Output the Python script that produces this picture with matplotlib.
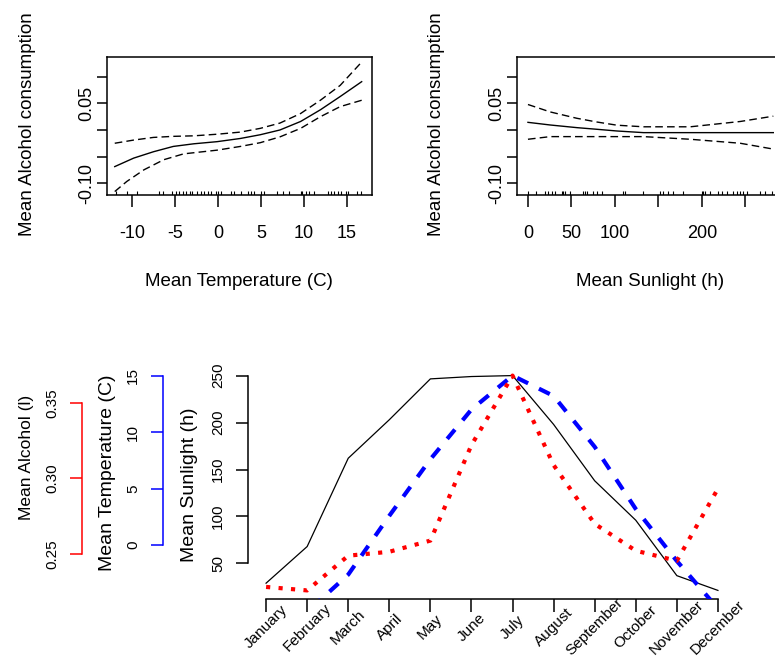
import matplotlib
matplotlib.use("Agg")
import matplotlib.pyplot as plt
import numpy as np

plt.rcParams['font.family'] = ['Liberation Sans', 'DejaVu Sans']

# --- top panels: smooth effects of temperature and sunlight ---
temp_grid = [-12.0, -9.8, -7.5, -5.2, -2.8, -0.1, 2.6, 4.9, 7.2, 9.6, 11.9, 14.2, 16.7]
temp_fit = [-0.069, -0.053, -0.041, -0.031, -0.026, -0.022, -0.016, -0.009, 0.000,
            0.016, 0.038, 0.063, 0.091]
temp_up = [-0.025, -0.019, -0.014, -0.012, -0.011, -0.008, -0.004, 0.003, 0.013,
           0.031, 0.056, 0.084, 0.128]
temp_lo_grid = [-12.0, -10.6, -8.6, -6.3, -4.0, -0.1, 2.6, 4.9, 7.2, 9.6, 11.9, 14.2, 16.7]
temp_lo = [-0.116, -0.097, -0.075, -0.056, -0.045, -0.038, -0.031, -0.024, -0.013,
           0.003, 0.025, 0.044, 0.056]
temp_rug = [-11.9, -10.6, -9.4, -6.8, -6.4, -5.3, -4.9, -4.5, -4.1, -3.7, -3.3, -3.0,
            -2.4, -2.0, -1.6, -1.2, -0.8, -0.2, 0.0, 0.4, 1.5, 1.9, 2.7, 3.5, 3.8, 4.2,
            5.0, 5.4, 6.9, 7.5, 8.3, 9.7, 9.8, 10.2, 10.6, 11.2, 12.8, 13.1, 13.5, 13.9,
            14.3, 14.9, 15.1, 16.1, 16.6]

sun_grid = [0, 25.6, 56.3, 79.3, 102.3, 132.9, 186.6, 244, 282]
sun_fit = [0.0144, 0.0094, 0.0044, 0.0013, -0.0019, -0.005, -0.005, -0.005, -0.005]
sun_up = [0.048, 0.034, 0.022, 0.015, 0.009, 0.006, 0.006, 0.016, 0.026]
sun_lo = [-0.0175, -0.0125, -0.0125, -0.0125, -0.0125, -0.0125, -0.0175, -0.025, -0.036]
sun_rug = [0.4, 9.2, 19.5, 23.4, 27.2, 31.0, 38.7, 40.6, 42.5, 48.3, 63.6, 65.5, 67.4,
           75.1, 78.9, 84.7, 109.6, 111.5, 132.6, 151.7, 155.6, 161.3, 167.0, 178.5,
           199.6, 201.5, 203.4, 209.2, 218.7, 222.6, 228.4, 236.0, 239.8, 243.7, 247.5,
           251.3, 266.7, 272.4, 280.1]

effect_ticks = [-0.10, -0.05, 0.00, 0.05, 0.10]
effect_labels = ['-0.10', '', '', '0.05', '']

# --- bottom panel: monthly means ---
months = ['January', 'February', 'March', 'April', 'May', 'June', 'July', 'August',
          'September', 'October', 'November', 'December']
sunlight = [29, 68, 162, 203, 246.5, 249, 250, 198, 138, 96, 37, 21.3]
temperature = [-6.8, -5.9, -2.6, 2.6, 7.6, 12.0, 15.0, 13.2, 8.7, 3.2, -1.4, -5.6]
alcohol = [0.228, 0.2257, 0.2487, 0.2513, 0.2587, 0.322, 0.368, 0.3087, 0.2698,
           0.252, 0.2453, 0.2931]

W, H = 775, 658
fig = plt.figure(figsize=(W / 100, H / 100), dpi=100)


def px_rect(l, t, r, b):
    return [l / W, 1 - b / H, (r - l) / W, (b - t) / H]


def ftext(x, y, s, **kw):
    fig.text(x / W, 1 - y / H, s, ha='center', va='center', **kw)


def effect_panel(rect, grid, fit, up, lo_grid, lo, rug, xlim, xticks, xlabels):
    ax = fig.add_axes(rect)
    ax.plot(grid, fit, color='black', lw=1.0)
    ax.plot(grid, up, color='black', lw=1.0, ls=(0, (5.5, 3)))
    ax.plot(lo_grid, lo, color='black', lw=1.0, ls=(0, (5.5, 3)))
    ax.vlines(rug, 0, 0.03, color='black', lw=0.8, transform=ax.get_xaxis_transform())
    ax.set_xlim(*xlim)
    ax.set_ylim(-0.1225, 0.1375)
    ax.set_xticks(xticks)
    ax.set_xticklabels(xlabels, fontsize=13)
    ax.set_yticks(effect_ticks)
    ax.set_yticklabels(effect_labels, fontsize=13, rotation=90, va='center')
    ax.tick_params(axis='x', direction='out', length=8.6, width=1.1, pad=13)
    ax.tick_params(axis='y', direction='out', length=7.2, width=1.1, pad=1)
    for s in ax.spines.values():
        s.set_linewidth(1.1)
    return ax


effect_panel(px_rect(107, 57, 372, 195), temp_grid, temp_fit, temp_up, temp_lo_grid,
             temp_lo, temp_rug, (-12.9, 17.9), [-10, -5, 0, 5, 10, 15],
             ['-10', '-5', '0', '5', '10', '15'])
effect_panel(px_rect(517, 57, 782, 195), sun_grid, sun_fit, sun_up, sun_grid,
             sun_lo, sun_rug, (-12.6, 292), [0, 50, 100, 150, 200, 250],
             ['0', '50', '100', '', '200', ''])

ftext(28, 124, 'Mean Alcohol consumption', rotation=90, fontsize=13.5)
ftext(436, 124, 'Mean Alcohol consumption', rotation=90, fontsize=13.5)
ftext(239, 281, 'Mean Temperature (C)', fontsize=13.5)
ftext(650, 281, 'Mean Sunlight (h)', fontsize=13.5)

# --- bottom panel ---
x = np.arange(1, 13)
ax = fig.add_axes(px_rect(248, 367, 736, 599))
ax_t = ax.twinx()
ax_a = ax.twinx()

ax.plot(x, sunlight, color='black', lw=0.9)
ax_t.plot(x, temperature, color='#0000ff', lw=3, ls=(0, (2.9, 2.9)))
ax_a.plot(x, alcohol, color='#ff0000', lw=3, ls=(0, (1.0, 2.0)))


def r_lim(vals):
    lo, hi = min(vals), max(vals)
    pad = 0.04 * (hi - lo)
    return lo - pad, hi + pad


ax.set_xlim(0.56, 12.44)
ax.set_ylim(*r_lim(sunlight))
ax_t.set_ylim(*r_lim([-4, 15]))
ax_a.set_ylim(*r_lim(alcohol))

for a in (ax, ax_t, ax_a):
    for s in a.spines.values():
        s.set_visible(False)

ax.spines['left'].set_visible(True)
ax.spines['left'].set_bounds(50, 250)
ax.spines['bottom'].set_visible(True)
ax.spines['bottom'].set_bounds(1, 12)
ax.set_yticks([50, 100, 150, 200, 250])
ax.set_yticklabels(['50', '100', '150', '200', '250'], rotation=90, va='center', fontsize=11)
ax.set_xticks(x)
ax.set_xticklabels([])
ax.tick_params(axis='x', direction='out', length=9.4, width=1.1)
ax.tick_params(axis='y', direction='out', length=8.6, width=1.1, pad=8)
for i, m in enumerate(months):
    ax.annotate(m, xy=(x[i], 0), xycoords=('data', 'axes fraction'),
                xytext=(0, -28), textcoords='offset pixels', rotation=45,
                ha='center', va='center', rotation_mode='anchor', fontsize=11)

for a, off, col, ticks, labels in (
        (ax_t, 61.2, '#0000ff', [0, 5, 10, 15], ['0', '5', '10', '15']),
        (ax_a, 119.5, '#ff0000', [0.25, 0.30, 0.35], ['0.25', '0.30', '0.35'])):
    a.yaxis.set_ticks_position('left')
    a.spines['left'].set_visible(True)
    a.spines['left'].set_position(('outward', off))
    a.spines['left'].set_color(col)
    a.spines['left'].set_bounds(ticks[0], ticks[-1])
    a.set_yticks(ticks)
    a.set_yticklabels(labels, rotation=90, va='center', fontsize=11)
    a.tick_params(axis='y', direction='out', length=8.6, width=1.1, color=col,
                  pad=8, left=True, right=False, labelleft=True, labelright=False)

for s in ax.spines.values():
    s.set_linewidth(1.1)
for a in (ax_t, ax_a):
    a.spines['left'].set_linewidth(1.1)

ftext(27, 457, 'Mean Alcohol (l)', rotation=90, fontsize=12.5)
ftext(108, 473, 'Mean Temperature (C)', rotation=90, fontsize=14)
ftext(189, 485, 'Mean Sunlight (h)', rotation=90, fontsize=14)

fig.savefig('out.png', dpi=100)
